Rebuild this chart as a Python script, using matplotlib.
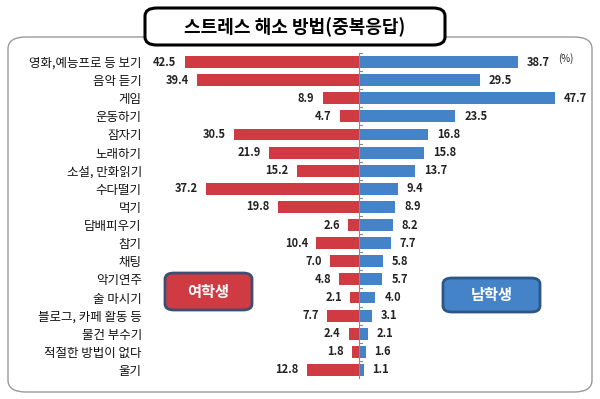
import numpy as np
import matplotlib.pyplot as plt
from matplotlib.patches import FancyBboxPatch

plt.rcParams['font.family'] = ['Noto Sans CJK KR', 'DejaVu Sans']

categories = ['영화,예능프로 등 보기', '음악 듣기', '게임', '운동하기', '잠자기', '노래하기',
              '소설, 만화읽기', '수다떨기', '먹기', '담배피우기', '참기', '채팅', '악기연주',
              '술 마시기', '블로그, 카페 활동 등', '물건 부수기', '적절한 방법이 없다', '울기']
female = [42.5, 39.4, 8.9, 4.7, 30.5, 21.9, 15.2, 37.2, 19.8, 2.6, 10.4, 7.0, 4.8,
          2.1, 7.7, 2.4, 1.8, 12.8]
male = [38.7, 29.5, 47.7, 23.5, 16.8, 15.8, 13.7, 9.4, 8.9, 8.2, 7.7, 5.8, 5.7,
        4.0, 3.1, 2.1, 1.6, 1.1]

title = '스트레스 해소 방법(중복응답)'
female_label = '여학생'
male_label = '남학생'

RED = '#CF3A43'
BLUE = '#4483C8'
W, H = 600, 399

fig = plt.figure(figsize=(6, 3.99), dpi=100)
fig.patch.set_facecolor('white')

def px(x0, y0, x1, y1):
    # pixel box (top-left origin) -> figure fraction [left, bottom, width, height]
    return [x0 / W, 1 - y1 / H, (x1 - x0) / W, (y1 - y0) / H]

def rbox(x0, y0, x1, y1, fc, ec, lw, pad=0.012, z=1):
    l, b, w, h = px(x0, y0, x1, y1)
    p = FancyBboxPatch((l, b), w, h, boxstyle='round,pad=0,rounding_size=%f' % pad,
                       transform=fig.transFigure, facecolor=fc, edgecolor=ec,
                       linewidth=lw, zorder=z)
    fig.add_artist(p)

# outer frame
rbox(8, 37, 592, 392, 'white', '#9a9a9a', 1.0, pad=0.03, z=0)

# chart
scale = 4.1
cx = 359
ax = fig.add_axes(px(146, 53, 580, 379))
ax.set_xlim(-(cx - 146) / scale, (580 - cx) / scale)
ax.set_ylim(len(categories) - 0.5, -0.5)
ax.patch.set_alpha(0)
y = np.arange(len(categories))
ax.barh(y, [-v for v in female], height=0.66, color=RED, zorder=2)
ax.barh(y, male, height=0.66, color=BLUE, zorder=2)

for i, (f, m) in enumerate(zip(female, male)):
    ax.annotate('%.1f' % f, (-f, i), xytext=(-6, 0), textcoords='offset points',
                ha='right', va='center', fontsize=8, fontweight='bold', color='#222222')
    ax.annotate('%.1f' % m, (m, i), xytext=(6.5, 0), textcoords='offset points',
                ha='left', va='center', fontsize=8, fontweight='bold', color='#222222',
                annotation_clip=False)

ax.axvline(0, color='#8a8a8a', lw=0.8, zorder=3)
for b in np.arange(-0.5, len(categories), 1.0):
    ax.plot([0, 0.7], [b, b], color='#8a8a8a', lw=0.8, zorder=3)

ax.set_yticks(y)
ax.set_yticklabels(categories, fontsize=9, color='#111111')
ax.tick_params(axis='y', length=0, pad=3)
ax.set_xticks([])
for s in ax.spines.values():
    s.set_visible(False)

ax.text((558 - cx) / scale, -0.2, '(%)', fontsize=7, ha='left', va='center',
        color='#222222', clip_on=False)

# title box
rbox(145, 8, 445, 45, 'white', 'black', 2.2, pad=0.02, z=5)
fig.text(295 / W, 1 - 27 / H, title, ha='center', va='center', fontsize=13,
         fontweight='bold', zorder=6)

# gender labels
rbox(165, 273, 252, 310, RED, '#3B4F73', 2.0, pad=0.015, z=5)
fig.text(208.5 / W, 1 - 291.5 / H, female_label, ha='center', va='center',
         fontsize=11, fontweight='bold', color='white', zorder=6)
rbox(443, 278, 540, 312, BLUE, '#2D5684', 2.0, pad=0.015, z=5)
fig.text(491.5 / W, 1 - 295 / H, male_label, ha='center', va='center',
         fontsize=11, fontweight='bold', color='white', zorder=6)

fig.savefig('out.png', dpi=100)
